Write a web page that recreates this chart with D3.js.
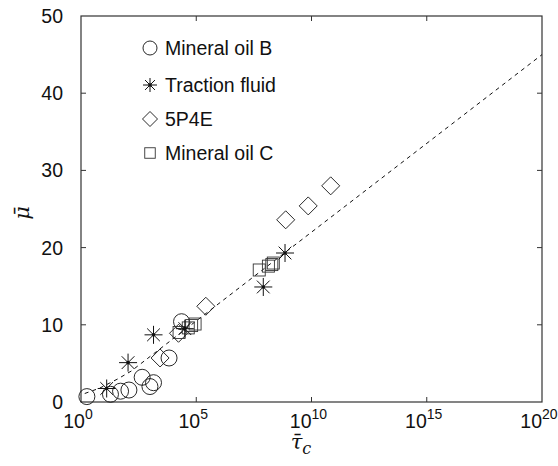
<!DOCTYPE html>
<html>
<head>
<meta charset="utf-8">
<script src="https://cdn.jsdelivr.net/npm/d3@7"></script>
<style>
  body { margin: 0; background: #fff; }
  text { font-family: "Liberation Sans", Arial, sans-serif; fill: #111; }
</style>
</head>
<body>
<div id="chart"></div>
<script>
// tau_c (dimensionless) and mu (dimensionless)
const oilB_tau = [1.8, 19, 52, 120, 450, 980, 1400, 6600, 23000];
const oilB_mu  = [0.7, 1.0, 1.4, 1.55, 3.2, 2.0, 2.5, 5.7, 10.4];

const traction_tau = [13, 110, 1400, 32000, 8.1e7, 7.1e8];
const traction_mu  = [1.75, 5.1, 8.7, 9.5, 14.9, 19.3];

const p4e_tau = [2700, 17000, 2.6e5, 7.6e8, 7.2e9, 6.8e10];
const p4e_mu  = [5.7, 8.9, 12.4, 23.6, 25.4, 28.0];

const oilC_tau = [18000, 45000, 63000, 89000, 5.4e7, 1.35e8, 1.9e8, 2.2e8];
const oilC_mu  = [9.0, 9.6, 9.9, 10.1, 17.1, 17.6, 17.8, 18.0];

// dashed fit curve
const fit_tau = [1.45, 6.5, 40, 150, 1000, 1e20];
const fit_mu  = [1.1, 1.8, 3.0, 4.0, 5.9, 45];

const xTicks = [1, 1e5, 1e10, 1e15, 1e20];
const xTickExp = ["0", "5", "10", "15", "20"];
const yTicks = [0, 10, 20, 30, 40, 50];

const legendNames = ["Mineral oil B", "Traction fluid", "5P4E", "Mineral oil C"];

const W = 558, H = 466;
const margin = { top: 16, right: 16, bottom: 64, left: 81 },
    width = W - margin.left - margin.right,
    height = H - margin.top - margin.bottom;

const svg = d3.select("#chart").append("svg")
    .attr("width", W)
    .attr("height", H)
  .append("g")
    .attr("transform", `translate(${margin.left}, ${margin.top})`);

const x = d3.scaleLog().domain([1, 1e20]).range([0, width]);
const y = d3.scaleLinear().domain([0, 50]).range([height, 0]);

// frame
svg.append("rect")
    .attr("width", width).attr("height", height)
    .attr("fill", "none").attr("stroke", "#333").attr("stroke-width", 1.2);

// inward ticks on all four sides
const tickLen = 5;
const tickG = svg.append("g").attr("stroke", "#333").attr("stroke-width", 1);
xTicks.slice(1, -1).forEach(t => {
    tickG.append("line").attr("x1", x(t)).attr("x2", x(t)).attr("y1", height).attr("y2", height - tickLen);
    tickG.append("line").attr("x1", x(t)).attr("x2", x(t)).attr("y1", 0).attr("y2", tickLen);
});
yTicks.slice(1, -1).forEach(t => {
    tickG.append("line").attr("x1", 0).attr("x2", tickLen).attr("y1", y(t)).attr("y2", y(t));
    tickG.append("line").attr("x1", width).attr("x2", width - tickLen).attr("y1", y(t)).attr("y2", y(t));
});

// x tick labels 10^n
const xl = svg.append("g").selectAll("text")
    .data(xTicks)
    .join("text")
    .attr("x", d => x(d) - 3)
    .attr("y", height + 26)
    .attr("text-anchor", "middle")
    .style("font-size", "19.5px");
xl.append("tspan").text("10");
xl.append("tspan")
    .attr("dy", -9)
    .style("font-size", "14px")
    .text((d, i) => xTickExp[i]);

// y tick labels
svg.append("g").selectAll("text")
    .data(yTicks)
    .join("text")
    .attr("x", -18)
    .attr("y", d => y(d))
    .attr("dy", "0.36em")
    .attr("text-anchor", "end")
    .style("font-size", "19.5px")
    .text(d => d);

// axis titles
svg.append("text")
    .attr("transform", `translate(${-52}, ${y(24.5)}) rotate(-90)`)
    .attr("text-anchor", "middle")
    .style("font-family", "'DejaVu Serif', serif")
    .style("font-style", "italic")
    .style("font-size", "21px")
    .text("\u03BC\u0304");

const xt = svg.append("text")
    .attr("x", 220)
    .attr("y", height + 47)
    .attr("text-anchor", "middle")
    .style("font-family", "'DejaVu Serif', serif")
    .style("font-style", "italic")
    .style("font-size", "21px");
xt.append("tspan").text("\u03C4\u0304");
xt.append("tspan").attr("dy", 5).style("font-size", "16px").text("c");

// dashed fit line
const fitData = fit_tau.map((t, i) => [t, fit_mu[i]]);
svg.append("path")
    .datum(fitData)
    .attr("fill", "none")
    .attr("stroke", "#111")
    .attr("stroke-width", 1)
    .attr("stroke-dasharray", "4,4")
    .attr("d", d3.line().x(d => x(d[0])).y(d => y(d[1])));

// marker drawers
function drawCircle(g, cx, cy, r) {
    g.append("circle").attr("cx", cx).attr("cy", cy).attr("r", r)
        .attr("fill", "none").attr("stroke", "#111").attr("stroke-width", 0.9);
}
function drawStar(g, cx, cy, r) {
    const p = d3.path();
    for (let k = 0; k < 4; k++) {
        const a = k * Math.PI / 4;
        p.moveTo(cx - r * Math.cos(a), cy - r * Math.sin(a));
        p.lineTo(cx + r * Math.cos(a), cy + r * Math.sin(a));
    }
    g.append("path").attr("d", p.toString())
        .attr("stroke", "#111").attr("stroke-width", 1).attr("fill", "none");
    g.append("circle").attr("cx", cx).attr("cy", cy).attr("r", 1.8).attr("fill", "#111");
}
function drawDiamond(g, cx, cy, r) {
    g.append("path")
        .attr("d", `M${cx},${cy - r}L${cx + r},${cy}L${cx},${cy + r}L${cx - r},${cy}Z`)
        .attr("fill", "none").attr("stroke", "#111").attr("stroke-width", 0.9);
}
function drawSquare(g, cx, cy, s) {
    g.append("rect").attr("x", cx - s / 2).attr("y", cy - s / 2)
        .attr("width", s).attr("height", s)
        .attr("fill", "none").attr("stroke", "#333").attr("stroke-width", 0.9);
}

const marks = svg.append("g");
oilB_tau.forEach((t, i) => drawCircle(marks, x(t), y(oilB_mu[i]), 8));
p4e_tau.forEach((t, i) => drawDiamond(marks, x(t), y(p4e_mu[i]), 9));
oilC_tau.forEach((t, i) => drawSquare(marks, x(t), y(oilC_mu[i]), 12));
traction_tau.forEach((t, i) => drawStar(marks, x(t), y(traction_mu[i]), 9));

// legend
const legend = svg.append("g").attr("transform", `translate(${150 - margin.left}, 0)`);
const legendY = [48, 85, 119, 153];
const drawers = [
    (g, cy) => drawCircle(g, 0, cy, 7),
    (g, cy) => drawStar(g, 0, cy, 7),
    (g, cy) => drawDiamond(g, 0, cy, 7.5),
    (g, cy) => drawSquare(g, 0, cy, 10.5)
];
legendNames.forEach((name, i) => {
    const cy = legendY[i] - margin.top;
    drawers[i](legend, cy);
    legend.append("text")
        .attr("x", 15)
        .attr("y", cy)
        .attr("dy", "0.36em")
        .style("font-size", "19.5px")
        .text(name);
});
</script>
</body>
</html>
